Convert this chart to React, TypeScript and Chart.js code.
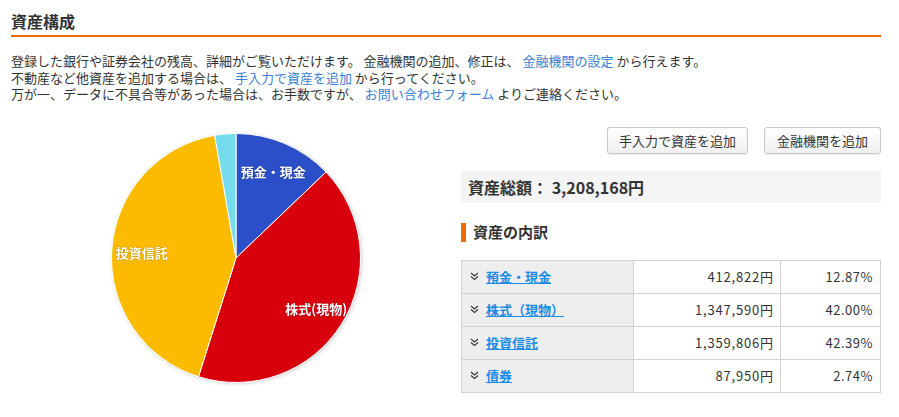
import React, { useEffect, useRef } from "react";
import { Chart, registerables } from "chart.js";

Chart.register(...registerables);

// ---- data ----
const categories = ["預金・現金", "株式(現物)", "投資信託", "債券"];
const tableLabels = ["預金・現金", "株式（現物）", "投資信託", "債券"];
const amounts = [412822, 1347590, 1359806, 87950];
const amountLabels = ["412,822", "1,347,590", "1,359,806", "87,950"];
const percentLabels = ["12.87%", "42.00%", "42.39%", "2.74%"];
const sliceColors = ["#2a4fc9", "#d9000e", "#fdbb00", "#74dced"];
const showSliceLabel = [true, true, true, false];
const totalLabel = "3,208,168円";

const FONT = "'Noto Sans CJK JP', 'Noto Sans', sans-serif";

const shadowPlugin = {
  id: "pieShadow",
  beforeDatasetsDraw(chart: any) {
    const meta = chart.getDatasetMeta(0);
    const arc = meta.data[0];
    if (!arc) return;
    const { x, y, outerRadius } = arc.getProps(["x", "y", "outerRadius"], true);
    const ctx = chart.ctx;
    ctx.save();
    ctx.shadowColor = "rgba(0,0,0,0.22)";
    ctx.shadowBlur = 4;
    ctx.shadowOffsetX = 1;
    ctx.shadowOffsetY = 1;
    ctx.beginPath();
    ctx.arc(x, y, outerRadius, 0, Math.PI * 2);
    ctx.fillStyle = "#ffffff";
    ctx.fill();
    ctx.restore();
  },
};

const labelPlugin = {
  id: "sliceLabels",
  afterDatasetsDraw(chart: any) {
    const meta = chart.getDatasetMeta(0);
    const ctx = chart.ctx;
    ctx.save();
    ctx.font = `bold 13px ${FONT}`;
    ctx.fillStyle = "#ffffff";
    ctx.textAlign = "center";
    ctx.textBaseline = "middle";
    ctx.shadowColor = "rgba(0,0,0,0.35)";
    ctx.shadowBlur = 2;
    meta.data.forEach((arc: any, i: number) => {
      if (!showSliceLabel[i]) return;
      const { x, y, startAngle, endAngle, outerRadius } = arc.getProps(
        ["x", "y", "startAngle", "endAngle", "outerRadius"],
        true
      );
      const mid = (startAngle + endAngle) / 2;
      const r = outerRadius - 30;
      ctx.fillText(categories[i], x + Math.cos(mid) * r, y + Math.sin(mid) * r + 1);
    });
    ctx.restore();
  },
};

function PieChart() {
  const ref = useRef<HTMLCanvasElement | null>(null);
  useEffect(() => {
    if (!ref.current) return;
    const chart = new Chart(ref.current, {
      type: "pie",
      data: {
        labels: categories,
        datasets: [
          {
            data: amounts,
            backgroundColor: sliceColors,
            borderColor: "#ffffff",
            borderWidth: 1,
          },
        ],
      },
      options: {
        animation: false,
        responsive: false,
        devicePixelRatio: 1,
        layout: { padding: 20 },
        plugins: {
          legend: { display: false },
          tooltip: { enabled: false },
        },
      },
      plugins: [shadowPlugin, labelPlugin],
    });
    return () => chart.destroy();
  }, []);
  return (
    <canvas
      ref={ref}
      width={290}
      height={290}
      style={{ position: "absolute", left: 91, top: 113, width: 290, height: 290 }}
    />
  );
}

function Chevron() {
  return (
    <svg width="9" height="9" viewBox="0 0 9 9" style={{ position: "absolute", left: 8, top: 11 }}>
      <polyline points="1,1 4.5,4 8,1" fill="none" stroke="#333" strokeWidth="1.1" />
      <polyline points="1,4.5 4.5,7.5 8,4.5" fill="none" stroke="#333" strokeWidth="1.1" />
    </svg>
  );
}

const descLink: React.CSSProperties = { color: "#3a7fd5" };

export default function App() {
  const rowTops = [260, 293, 326, 359];
  const rowH = 33;
  return (
    <div
      style={{
        position: "absolute",
        left: 0,
        top: 0,
        width: 899,
        height: 417,
        background: "#fff",
        fontFamily: FONT,
        color: "#333",
        overflow: "hidden",
      }}
    >
      <div style={{ position: "absolute", left: 11, top: 9, fontSize: 16, fontWeight: "bold", lineHeight: "24px", color: "#333" }}>
        資産構成
      </div>
      <div style={{ position: "absolute", left: 11, top: 35, width: 870, height: 2, background: "#ec6a00" }} />

      <div style={{ position: "absolute", left: 11, top: 52, fontSize: 13, lineHeight: "17px", whiteSpace: "nowrap" }}>
        登録した銀行や証券会社の残高、詳細がご覧いただけます。 金融機関の追加、修正は、 <span style={descLink}>金融機関の設定</span> から行えます。
      </div>
      <div style={{ position: "absolute", left: 11, top: 69, fontSize: 13, lineHeight: "17px", whiteSpace: "nowrap" }}>
        不動産など他資産を追加する場合は、 <span style={descLink}>手入力で資産を追加</span> から行ってください。
      </div>
      <div style={{ position: "absolute", left: 11, top: 85, fontSize: 13, lineHeight: "17px", whiteSpace: "nowrap" }}>
        万が一、データに不具合等があった場合は、お手数ですが、 <span style={descLink}>お問い合わせフォーム</span> よりご連絡ください。
      </div>

      <PieChart />

      {[
        { left: 607, width: 141, text: "手入力で資産を追加" },
        { left: 764, width: 117, text: "金融機関を追加" },
      ].map((b) => (
        <div
          key={b.text}
          style={{
            position: "absolute",
            left: b.left,
            top: 127,
            width: b.width,
            height: 27,
            boxSizing: "border-box",
            border: "1px solid #c8c8c8",
            borderRadius: 3,
            background: "linear-gradient(#ffffff, #f1f1f1)",
            boxShadow: "0 1px 1px rgba(0,0,0,0.08)",
            fontSize: 13,
            lineHeight: "25px",
            textAlign: "center",
            color: "#333",
          }}
        >
          {b.text}
        </div>
      ))}

      <div
        style={{
          position: "absolute",
          left: 461,
          top: 171,
          width: 420,
          height: 32,
          background: "#f4f4f4",
          borderRadius: 3,
        }}
      >
        <div style={{ position: "absolute", left: 7, top: 0, lineHeight: "32px", fontSize: 16, fontWeight: "bold", whiteSpace: "nowrap" }}>
          資産総額： {totalLabel}
        </div>
      </div>

      <div style={{ position: "absolute", left: 461, top: 223, width: 5, height: 19, background: "#ec6a00" }} />
      <div style={{ position: "absolute", left: 473, top: 221, fontSize: 15, fontWeight: "bold", lineHeight: "22px" }}>
        資産の内訳
      </div>

      <div
        style={{
          position: "absolute",
          left: 461,
          top: 260,
          width: 420,
          height: 133,
          boxSizing: "border-box",
          border: "1px solid #d2d2d2",
        }}
      />
      {tableLabels.map((lab, i) => (
        <React.Fragment key={lab}>
          <div
            style={{
              position: "absolute",
              left: 462,
              top: rowTops[i] + 1,
              width: 171,
              height: rowH - 1,
              background: "#eeeeee",
            }}
          >
            <Chevron />
            <span
              style={{
                position: "absolute",
                left: 24,
                top: 0,
                lineHeight: "32px",
                fontSize: 13,
                fontWeight: "bold",
                color: "#1a8ce6",
                textDecoration: "underline",
                whiteSpace: "nowrap",
              }}
            >
              {lab}
            </span>
          </div>
          <div
            style={{
              position: "absolute",
              left: 633,
              top: rowTops[i] + 1,
              width: 140,
              height: rowH - 1,
              lineHeight: "32px",
              fontSize: 13,
              textAlign: "right",
              whiteSpace: "nowrap",
            }}
          >
            <span style={{ letterSpacing: "0.8px" }}>{amountLabels[i]}</span>円
          </div>
          <div
            style={{
              position: "absolute",
              left: 780,
              top: rowTops[i] + 1,
              width: 93,
              height: rowH - 1,
              lineHeight: "32px",
              fontSize: 13,
              textAlign: "right",
              letterSpacing: "0.5px",
              whiteSpace: "nowrap",
            }}
          >
            {percentLabels[i]}
          </div>
          {i > 0 && (
            <div style={{ position: "absolute", left: 461, top: rowTops[i], width: 420, height: 1, background: "#d2d2d2" }} />
          )}
        </React.Fragment>
      ))}
      <div style={{ position: "absolute", left: 633, top: 260, width: 1, height: 133, background: "#d2d2d2" }} />
      <div style={{ position: "absolute", left: 780, top: 260, width: 1, height: 133, background: "#d2d2d2" }} />
    </div>
  );
}
